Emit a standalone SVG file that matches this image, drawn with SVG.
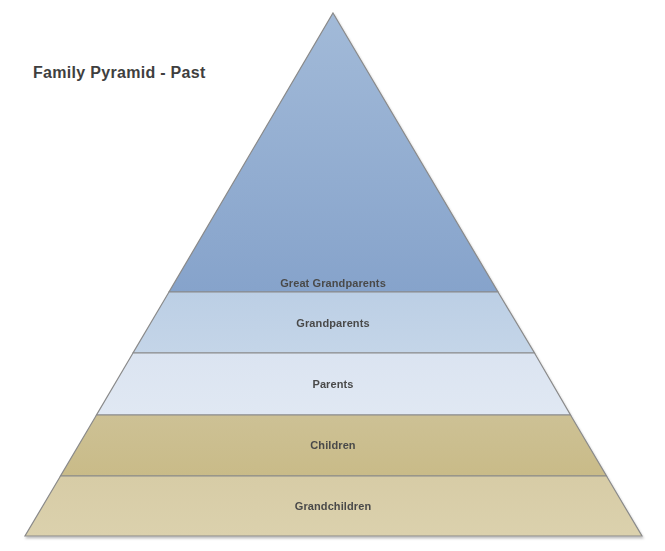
<svg xmlns="http://www.w3.org/2000/svg" width="665" height="551" viewBox="0 0 665 551">
<defs>
<linearGradient id="g1" x1="0" y1="0" x2="0" y2="1"><stop offset="0" stop-color="#a2bad8"/><stop offset="1" stop-color="#86a3cb"/></linearGradient>
<linearGradient id="g2" x1="0" y1="0" x2="0" y2="1"><stop offset="0" stop-color="#bccfe5"/><stop offset="1" stop-color="#c4d5e8"/></linearGradient>
<linearGradient id="g3" x1="0" y1="0" x2="0" y2="1"><stop offset="0" stop-color="#dbe4f1"/><stop offset="1" stop-color="#e0e8f3"/></linearGradient>
<linearGradient id="g4" x1="0" y1="0" x2="0" y2="1"><stop offset="0" stop-color="#cdc195"/><stop offset="1" stop-color="#c9bb88"/></linearGradient>
<linearGradient id="g5" x1="0" y1="0" x2="0" y2="1"><stop offset="0" stop-color="#d7cca6"/><stop offset="1" stop-color="#dbd1ad"/></linearGradient>
<filter id="sh" x="-5%" y="-5%" width="110%" height="110%"><feDropShadow dx="1" dy="2" stdDeviation="1.2" flood-color="#000" flood-opacity="0.25"/></filter>
</defs>
<style>
.layer{stroke:#8a8a8a;stroke-width:1.2}
.lbl{font-family:"Liberation Sans",Arial,sans-serif;font-size:11px;font-weight:bold;fill:#4a4a4a;text-anchor:middle;letter-spacing:0.1px}
.title{font-family:"Liberation Sans",Arial,sans-serif;font-size:16px;font-weight:bold;fill:#3f3f3f;letter-spacing:0.3px}
</style>
<text class="title" x="33" y="78">Family Pyramid - Past</text>
<g filter="url(#sh)">
<g id="great-grandparents"><polygon class="layer" fill="url(#g1)" points="333,13 498,292 169,292"/><text class="lbl" x="333" y="287">Great Grandparents</text></g>
<g id="grandparents"><polygon class="layer" fill="url(#g2)" points="169,292 498,292 534.5,353 133,353"/><text class="lbl" x="333" y="327">Grandparents</text></g>
<g id="parents"><polygon class="layer" fill="url(#g3)" points="133,353 534.5,353 570.5,415 96.5,415"/><text class="lbl" x="333" y="388">Parents</text></g>
<g id="children"><polygon class="layer" fill="url(#g4)" points="96.5,415 570.5,415 606.5,476 60.5,476"/><text class="lbl" x="333" y="449">Children</text></g>
<g id="grandchildren"><polygon class="layer" fill="url(#g5)" points="60.5,476 606.5,476 642,536 25,536"/><text class="lbl" x="333" y="510">Grandchildren</text></g>
</g>
</svg>
